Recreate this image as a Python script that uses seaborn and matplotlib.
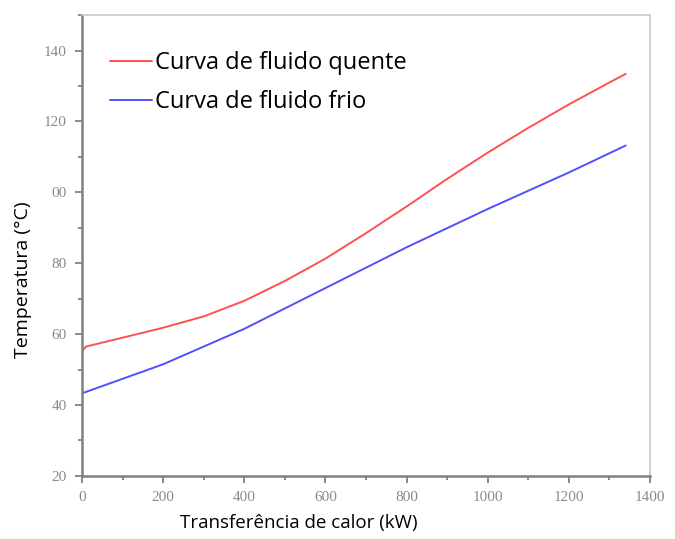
import numpy as np
import pandas as pd
import matplotlib
matplotlib.use("Agg")
import matplotlib.pyplot as plt
import seaborn as sns
from matplotlib.ticker import MultipleLocator, FixedLocator, FixedFormatter

# Heat transfer curves (hot / cold fluid)
hot_q = [0, 10, 100, 200, 300, 400, 500, 600, 700, 800, 900, 1000, 1100, 1200, 1300, 1340]
hot_t = [55.2, 56.5, 59.0, 61.8, 65.0, 69.4, 75.0, 81.3, 88.5, 96.0, 103.8, 111.2, 118.2, 124.8, 131.0, 133.4]

cold_q = [0, 200, 400, 600, 800, 1000, 1200, 1340]
cold_t = [43.3, 51.5, 61.5, 73.0, 84.5, 95.3, 105.6, 113.2]

hot_label = "Curva de fluido quente"
cold_label = "Curva de fluido frio"

xticks = [0, 200, 400, 600, 800, 1000, 1200, 1400]
yticks = [20, 40, 60, 80, 100, 120, 140]
ytick_labels = ["20", "40", "60", "80", "00", "120", "140"]

df = pd.concat([
    pd.DataFrame({"q": hot_q, "t": hot_t, "curva": hot_label}),
    pd.DataFrame({"q": cold_q, "t": cold_t, "curva": cold_label}),
])

sns.set_style("ticks")
plt.rcParams["font.family"] = ["Open Sans", "DejaVu Sans"]

fig = plt.figure(figsize=(6.75, 5.39), dpi=100)
ax = fig.add_axes([0.1215, 0.117, 0.8415, 0.855])

sns.lineplot(data=df, x="q", y="t", hue="curva", sort=False,
             palette={hot_label: "#ff5050", cold_label: "#5050ff"},
             linewidth=1.4, ax=ax)

ax.set_xlim(0, 1400)
ax.set_ylim(20, 150)
ax.xaxis.set_major_locator(FixedLocator(xticks))
ax.xaxis.set_minor_locator(MultipleLocator(100))
ax.yaxis.set_major_locator(FixedLocator(yticks))
ax.yaxis.set_major_formatter(FixedFormatter(ytick_labels))
ax.yaxis.set_minor_locator(MultipleLocator(10))

for lab in ax.get_xticklabels() + ax.get_yticklabels():
    lab.set_family("Liberation Serif")
    lab.set_fontsize(11)
    lab.set_color("#8a8a8a")

ax.tick_params(which="major", direction="out", length=5, width=1.2, color="#777777", pad=6)
ax.tick_params(which="minor", direction="out", length=3, width=1.2, color="#777777")
ax.tick_params(top=False, right=False)

for side in ["left", "bottom"]:
    ax.spines[side].set_color("#808080")
    ax.spines[side].set_linewidth(1.8)
for side in ["top", "right"]:
    ax.spines[side].set_color("#c8c8c8")
    ax.spines[side].set_linewidth(1.2)

ax.set_xlabel("Transferência de calor (kW)", fontsize=13.5, color="black")
ax.set_ylabel("Temperatura (°C)", fontsize=14, color="black")
ax.xaxis.set_label_coords(0.382, -0.082)
ax.yaxis.set_label_coords(-0.088, 0.425)

ax.legend(loc="upper left", bbox_to_anchor=(0.049, 0.922), frameon=False,
          borderaxespad=0, borderpad=0, labelcolor="black",
          fontsize=17, handlelength=1.8, handletextpad=0.1, labelspacing=0.63)

fig.savefig("out.png", dpi=100)
